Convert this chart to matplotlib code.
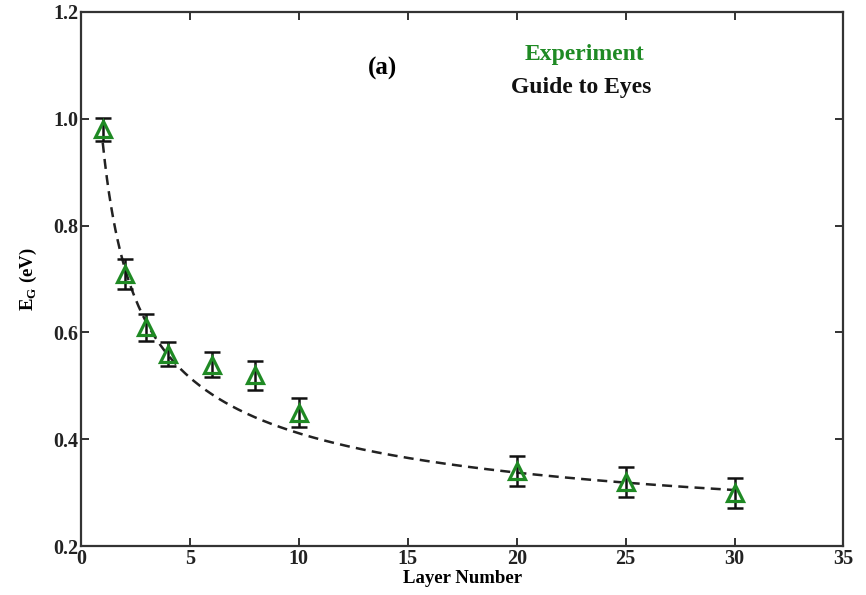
import numpy as np
import matplotlib
matplotlib.use("Agg")
import matplotlib.pyplot as plt

# measured band gap vs number of layers
layers = [1, 2, 3, 4, 6, 8, 10, 20, 25, 30]
gap_ev = [0.98, 0.71, 0.61, 0.56, 0.54, 0.52, 0.45, 0.34, 0.32, 0.30]
gap_err = [0.022, 0.028, 0.025, 0.022, 0.024, 0.027, 0.027, 0.028, 0.028, 0.028]

# guide-to-eyes curve: c + a * n^-b
GUIDE_A = 0.795
GUIDE_B = 0.50
GUIDE_C = 0.160

x_ticks = [0, 5, 10, 15, 20, 25, 30, 35]
y_ticks = [0.2, 0.4, 0.6, 0.8, 1.0, 1.2]

GREEN = "#1f8a24"
SERIF = ["Liberation Serif", "DejaVu Serif"]

plt.rcParams["font.family"] = SERIF

fig = plt.figure(figsize=(8.66, 5.95), dpi=100)
ax = fig.add_axes([0.0935, 0.082, 0.8805, 0.898])

n = np.linspace(layers[0], layers[-1], 300)
ax.plot(n, GUIDE_C + GUIDE_A * n ** (-GUIDE_B), "--", color="#222222",
        lw=1.8, dashes=(4, 2.5))

ax.errorbar(layers, gap_ev, yerr=gap_err, fmt="none", ecolor="#111111",
            elinewidth=1.8, capsize=6, capthick=1.8, zorder=3)
ax.plot(layers, gap_ev, "^", ms=12, mfc="none", mec=GREEN, mew=2.3, zorder=4)

ax.set_xlim(0, 35)
ax.set_ylim(0.2, 1.2)
ax.set_xticks(x_ticks)
ax.set_yticks(y_ticks)
ax.set_yticklabels([f"{v:.1f}" for v in y_ticks])

ax.tick_params(direction="in", length=6, width=1.3, top=True, right=True,
               labelsize=14.5, colors="#222222")
ax.tick_params(axis="y", pad=2)
ax.tick_params(axis="x", pad=2)
for lab in ax.get_xticklabels() + ax.get_yticklabels():
    lab.set_fontweight("bold")
for sp in ax.spines.values():
    sp.set_linewidth(1.6)
    sp.set_color("#333333")

ax.set_xlabel("Layer Number", fontsize=13.5, fontweight="bold", labelpad=1)
ax.set_ylabel(r"E$_\mathregular{G}$ (eV)", fontsize=13.5, fontweight="bold",
              labelpad=10)

ax.text(0.395, 0.895, "(a)", transform=ax.transAxes, fontsize=18,
        fontweight="bold", ha="center", va="center")
ax.text(0.66, 0.92, "Experiment", transform=ax.transAxes, fontsize=17,
        fontweight="bold", color=GREEN, ha="center", va="center")
ax.text(0.656, 0.858, "Guide to Eyes", transform=ax.transAxes, fontsize=17,
        fontweight="bold", color="#111111", ha="center", va="center")

fig.savefig("out.png", dpi=100)
